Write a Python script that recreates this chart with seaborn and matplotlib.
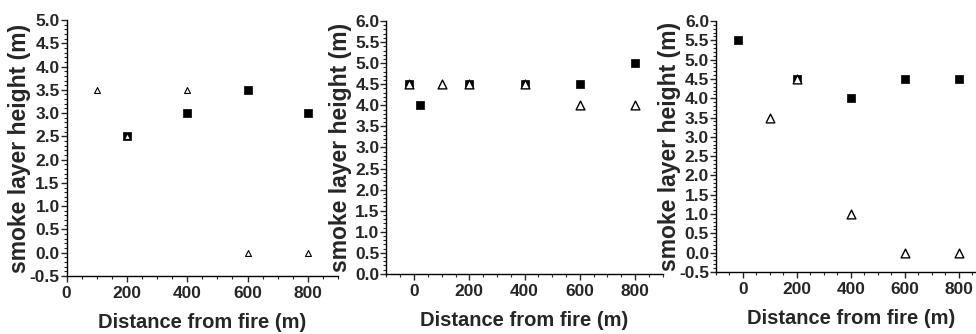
import matplotlib
matplotlib.use("Agg")
import matplotlib.pyplot as plt
import seaborn as sns
import pandas as pd
from matplotlib.ticker import MultipleLocator, FormatStrFormatter

sns.set_style("ticks")
plt.rcParams['font.family'] = ['Liberation Sans', 'DejaVu Sans']
plt.rcParams['font.weight'] = 'bold'
plt.rcParams['axes.labelweight'] = 'bold'
plt.rcParams['axes.unicode_minus'] = False

# Panel A
a_sq_x = [200, 400, 600, 800]
a_sq_y = [2.5, 3.0, 3.5, 3.0]
a_tri_x = [100, 200, 400, 600, 800]
a_tri_y = [3.5, 2.5, 3.5, 0.0, 0.0]
# Panel B
b_sq_x = [-20, 20, 200, 400, 600, 800]
b_sq_y = [4.5, 4.0, 4.5, 4.5, 4.5, 5.0]
b_tri_x = [-20, 100, 200, 400, 600, 800]
b_tri_y = [4.5, 4.5, 4.5, 4.5, 4.0, 4.0]
# Panel C
c_sq_x = [-20, 200, 400, 600, 800]
c_sq_y = [5.5, 4.5, 4.0, 4.5, 4.5]
c_tri_x = [100, 200, 400, 600, 800]
c_tri_y = [3.5, 4.5, 1.0, 0.0, 0.0]

xlabel = "Distance from fire (m)"
ylabel = "smoke layer height (m)"

fig = plt.figure(figsize=(9.76, 3.34), dpi=100)

panels = [
    dict(rect=[0.0683, 0.174, 0.278, 0.766], xlim=(0, 900), ylim=(-0.5, 5.0),
         sq=(a_sq_x, a_sq_y), tri=(a_tri_x, a_tri_y), tri_s=18, tri_lw=0.8, ylx=-0.13),
    dict(rect=[0.396, 0.180, 0.283, 0.757], xlim=(-100, 900), ylim=(0.0, 6.0),
         sq=(b_sq_x, b_sq_y), tri=(b_tri_x, b_tri_y), tri_s=40, tri_lw=1.0, ylx=-0.125),
    dict(rect=[0.7336, 0.186, 0.2766, 0.751], xlim=(-100, 900), ylim=(-0.5, 6.0),
         sq=(c_sq_x, c_sq_y), tri=(c_tri_x, c_tri_y), tri_s=40, tri_lw=1.0, ylx=-0.13),
]

for p in panels:
    ax = fig.add_axes(p['rect'])
    dsq = pd.DataFrame({'x': p['sq'][0], 'y': p['sq'][1]})
    dtr = pd.DataFrame({'x': p['tri'][0], 'y': p['tri'][1]})
    sns.scatterplot(data=dsq, x='x', y='y', marker='s', s=26, color='black',
                    edgecolor='black', linewidth=0.5, ax=ax, zorder=3)
    sns.scatterplot(data=dtr, x='x', y='y', marker='^', s=p['tri_s'], color='white',
                    edgecolor='black', linewidth=p['tri_lw'], ax=ax, zorder=4)
    ax.set_xlim(*p['xlim'])
    ax.set_ylim(*p['ylim'])
    ax.xaxis.set_major_locator(MultipleLocator(200))
    ax.xaxis.set_minor_locator(MultipleLocator(50))
    ax.yaxis.set_major_locator(MultipleLocator(0.5))
    ax.yaxis.set_minor_locator(MultipleLocator(0.1))
    ax.yaxis.set_major_formatter(FormatStrFormatter('%.1f'))
    ax.tick_params(which='major', length=4, width=1.0, pad=1, labelsize=12.5)
    ax.tick_params(axis='x', which='major', pad=3)
    ax.tick_params(which='minor', length=2, width=0.8)
    sns.despine(ax=ax)
    for sp in ('left', 'bottom'):
        ax.spines[sp].set_linewidth(1.0)
        ax.spines[sp].set_color('black')
    ax.set_xlabel(xlabel, fontsize=14.5, fontweight='bold', labelpad=9)
    ax.set_ylabel(ylabel, fontsize=16.5, fontweight='bold')
    ax.yaxis.set_label_coords(p['ylx'], 0.5)
    ax.patch.set_alpha(0)

fig.savefig("out.png", dpi=100)
